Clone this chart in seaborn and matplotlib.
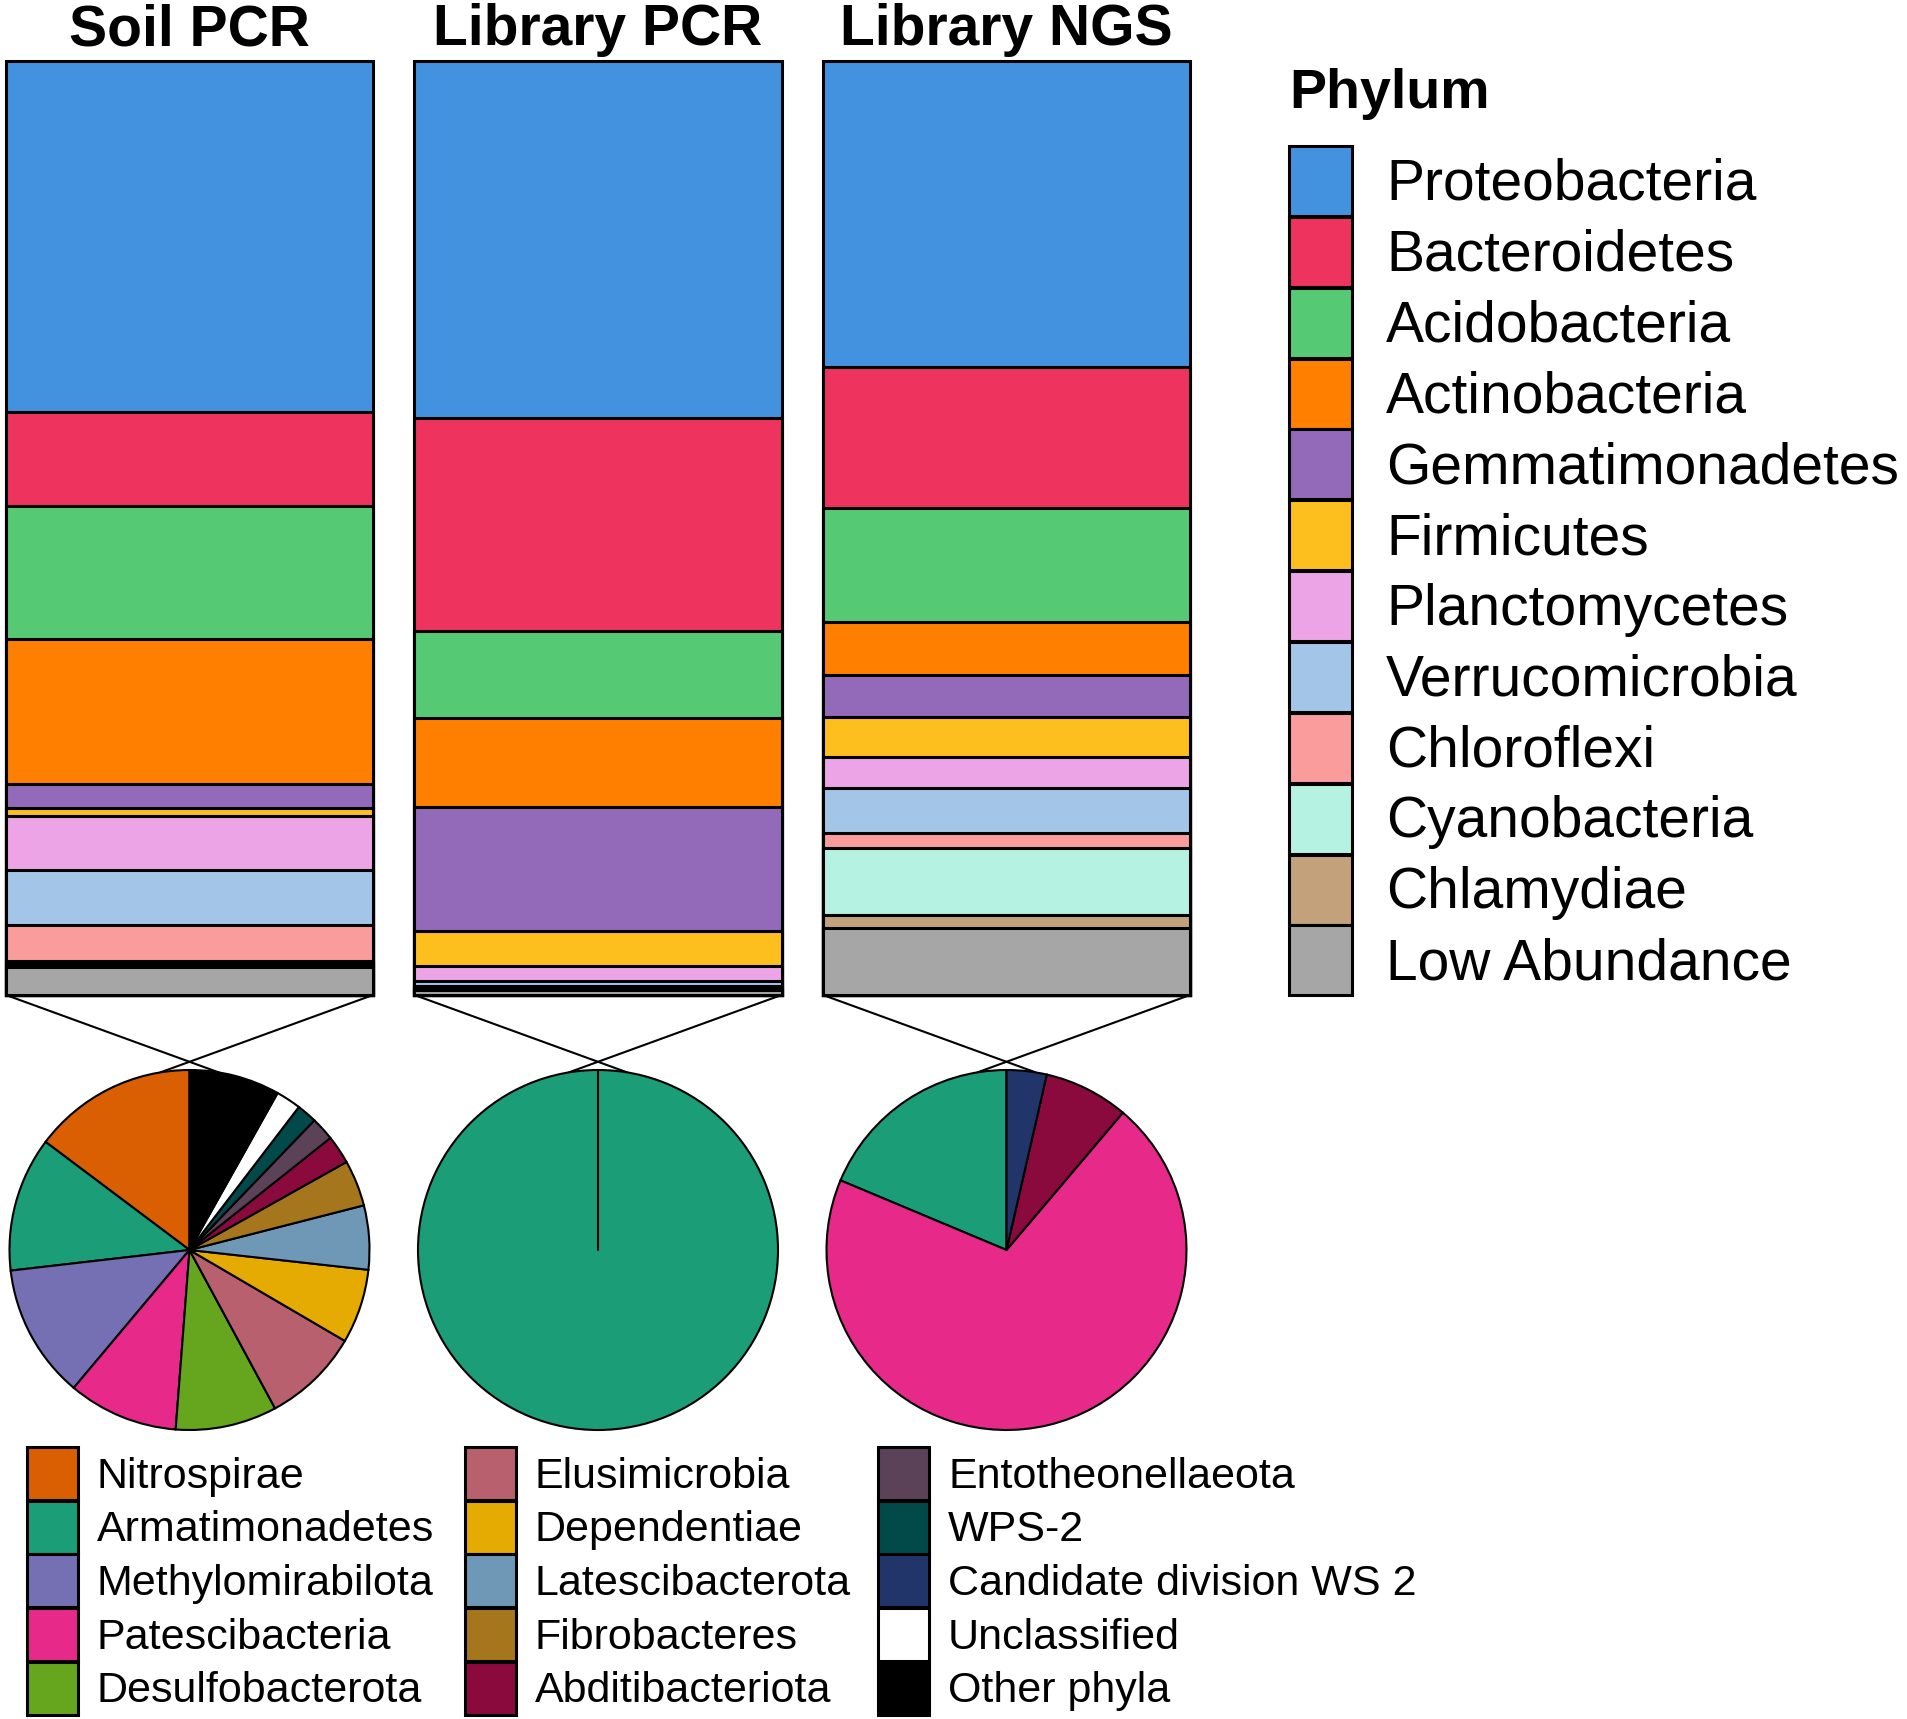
import numpy as np
import pandas as pd
import matplotlib
matplotlib.use("Agg")
import matplotlib.pyplot as plt
from matplotlib.patches import Patch
import seaborn as sns

samples = ["Soil PCR", "Library PCR", "Library NGS"]

phyla = ["Proteobacteria", "Bacteroidetes", "Acidobacteria", "Actinobacteria",
         "Gemmatimonadetes", "Firmicutes", "Planctomycetes", "Verrucomicrobia",
         "Chloroflexi", "Cyanobacteria", "Chlamydiae", "Low Abundance"]
phylum_colors = ["#4292E0", "#EE335E", "#56C975", "#FF8000", "#9369B9", "#FCBF1E",
                 "#ECA4E6", "#A2C5E8", "#F99C9B", "#B5F2E1", "#C3A27B", "#A6A6A6"]

# relative abundance (%)
soil_pcr = [37.6, 10.0, 14.2, 15.6, 2.5, 0.85, 5.8, 5.9, 3.9, 0.3, 0.3, 3.0]
library_pcr = [38.3, 22.8, 9.4, 9.5, 13.3, 3.7, 1.7, 0.45, 0.2, 0.2, 0.1, 0.5]
library_ngs = [32.8, 15.1, 12.2, 5.6, 4.5, 4.3, 3.3, 4.9, 1.6, 7.1, 1.4, 7.2]

low_groups = ["Nitrospirae", "Armatimonadetes", "Methylomirabilota", "Patescibacteria",
              "Desulfobacterota", "Elusimicrobia", "Dependentiae", "Latescibacterota",
              "Fibrobacteres", "Abditibacteriota", "Entotheonellaeota", "WPS-2",
              "Candidate division WS 2", "Unclassified", "Other phyla"]
low_colors = ["#D95F02", "#1B9E77", "#7570B3", "#E7298A", "#66A61E", "#B9606E",
              "#E6AB02", "#6E98B6", "#A6761D", "#8B0A3E", "#5B4258", "#024A4A",
              "#22356A", "#FFFFFF", "#000000"]

# share of the "Low Abundance" part (%)
soil_pcr_low = [14.75, 12.08, 12.06, 9.89, 9.11, 8.69, 6.67, 5.75, 4.14, 2.56, 2.11, 1.81, 0, 2.25, 8.14]
library_pcr_low = [0, 100, 0, 0, 0, 0, 0, 0, 0, 0, 0, 0, 0, 0, 0]
library_ngs_low = [0, 18.7, 0, 70.2, 0, 0, 0, 0, 0, 7.6, 0, 0, 3.6, 0, 0]

sns.set_theme(style="white")
plt.rcParams["font.family"] = ["Liberation Sans", "DejaVu Sans"]
plt.rcParams["text.color"] = "black"

W, H = 1907, 1719
fig = plt.figure(figsize=(W / 100, H / 100), dpi=100)


def rect(x0, y0, x1, y1):
    # pixel box (top-left origin) -> figure fraction
    return [x0 / W, 1 - y1 / H, (x1 - x0) / W, (y1 - y0) / H]


def handle_h(px, fpx):
    # legend handleheight giving a patch of px pixels (matplotlib subtracts a descent)
    return (px / fpx - 0.245) / 0.65


bar_left, bar_w, pitch = 6, 367, 408.5
bar_top, bar_bot = 61, 995
pie_cy, pie_r = 1250, 180
centers = [bar_left + bar_w / 2 + i * pitch for i in range(3)]

# zoom lines from the bar bottoms to the pies
ov = fig.add_axes([0, 0, 1, 1])
ov.set_xlim(0, W)
ov.set_ylim(H, 0)
ov.axis("off")
ang = np.deg2rad(9.3)
for cx in centers:
    ex, ey = pie_r * np.sin(ang), pie_cy - pie_r * np.cos(ang)
    ov.plot([cx - bar_w / 2, cx + ex], [bar_bot, ey], color="black", lw=1.5)
    ov.plot([cx + bar_w / 2, cx - ex], [bar_bot, ey], color="black", lw=1.5)

# stacked bars
df = pd.DataFrame({
    "sample": np.repeat(samples, len(phyla)),
    "phylum": np.tile(phyla, len(samples)),
    "value": np.concatenate([soil_pcr, library_pcr, library_ngs]),
})
df["pct"] = df["value"] / df.groupby("sample")["value"].transform("sum") * 100
df["top"] = df.iloc[::-1].groupby("sample", sort=False)["pct"].cumsum()

wf = bar_w / pitch
axb = fig.add_axes(rect(bar_left, bar_top, bar_left + bar_w + 2 * pitch, bar_bot))
for p, c in zip(phyla, phylum_colors):
    sns.barplot(data=df[df["phylum"] == p], x="sample", y="top", order=samples,
                color=c, saturation=1, width=wf, edgecolor="black", linewidth=2.2,
                errorbar=None, ax=axb, clip_on=False)
axb.set_xlim(-wf / 2, 2 + wf / 2)
axb.set_ylim(0, 100)
axb.axis("off")
for i, s in enumerate(samples):
    axb.text(i, 101.7, s, ha="center", va="baseline", fontsize=41, fontweight="bold")

# pies of the low-abundance phyla
for cx, vals in zip(centers, [soil_pcr_low, library_pcr_low, library_ngs_low]):
    axp = fig.add_axes(rect(cx - pie_r, pie_cy - pie_r, cx + pie_r, pie_cy + pie_r))
    v = [x for x in vals if x > 0]
    cols = [c for x, c in zip(vals, low_colors) if x > 0]
    axp.pie(v, colors=cols, startangle=90, counterclock=True,
            wedgeprops=dict(edgecolor="black", linewidth=1.5, clip_on=False))
    if len(v) == 1:
        axp.plot([0, 0], [0, 1], color="black", lw=1.5)
    axp.set_xlim(-1, 1)
    axp.set_ylim(-1, 1)
    axp.set_aspect("equal")
    axp.axis("off")

# Phylum legend
fs = 41
F = fs * 100 / 72
fig.text(1289 / W, 1 - 108 / H, "Phylum", fontsize=40, fontweight="bold",
         ha="left", va="baseline")
handles = [Patch(facecolor=c, edgecolor="black", linewidth=2.2) for c in phylum_colors]
fig.legend(handles, phyla, loc="upper left", bbox_to_anchor=(1289 / W, 1 - 146 / H),
           frameon=False, fontsize=fs, handlelength=63 / F, handleheight=handle_h(70, F),
           handletextpad=34 / F, labelspacing=0.015, borderpad=0, borderaxespad=0,
           labelcolor="black")

# low-abundance legend, three columns
fs2 = 31
F2 = fs2 * 100 / 72
for j, x0 in enumerate([27, 465, 878]):
    idx = range(5 * j, 5 * j + 5)
    hs = [Patch(facecolor=low_colors[k], edgecolor="black", linewidth=2.2) for k in idx]
    fig.legend(hs, [low_groups[k] for k in idx], loc="upper left",
               bbox_to_anchor=(x0 / W, 1 - 1447 / H), frameon=False, fontsize=fs2,
               handlelength=51 / F2, handleheight=handle_h(53, F2), handletextpad=19 / F2,
               labelspacing=0.015, borderpad=0, borderaxespad=0, labelcolor="black")

fig.savefig("out.png", dpi=100)
